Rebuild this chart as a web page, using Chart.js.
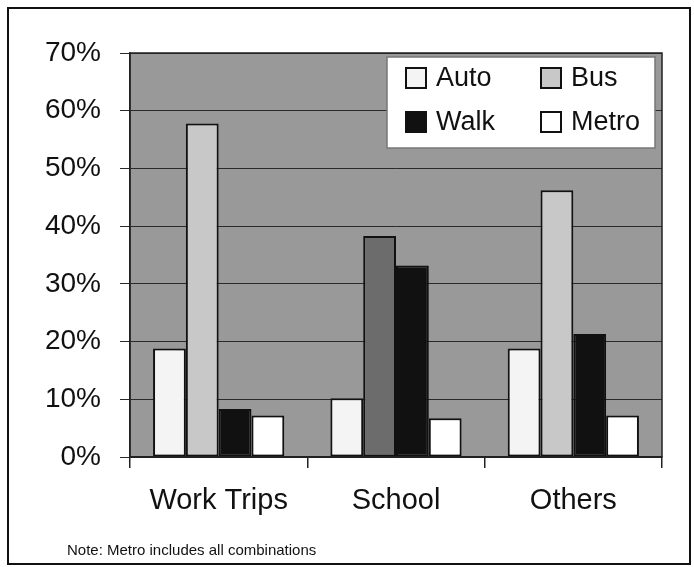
<!DOCTYPE html>
<html>
<head>
<meta charset="utf-8">
<script src="https://cdn.jsdelivr.net/npm/chart.js@4/dist/chart.umd.min.js"></script>
<style>
  html, body { margin: 0; padding: 0; background: #fff; }
  #wrap { width: 694px; height: 567px; }
</style>
</head>
<body>
<div id="wrap"><canvas id="trip-chart" width="694" height="567"></canvas></div>
<script>
// trip purposes and mode shares (%)
const categories = ["Work Trips", "School", "Others"];
const modes = ["Auto", "Bus", "Walk", "Metro"];
const autoShare = [18.8, 10.2, 18.8];
const busShare = [57.8, 38.3, 46.2];
const walkShare = [8.3, 33.2, 21.3];
const metroShare = [7.2, 6.7, 7.2];
const yTicks = [0, 10, 20, 30, 40, 50, 60, 70];
const noteText = "Note: Metro includes all combinations";

const FONT = "'Liberation Sans', Arial, sans-serif";

// gray plot background + outer frame + note
const backdrop = {
    id: 'backdrop',
    beforeDraw(chart) {
        const { ctx, chartArea: a } = chart;
        ctx.save();
        ctx.fillStyle = '#fff';
        ctx.fillRect(0, 0, chart.width, chart.height);
        ctx.fillStyle = '#999999';
        ctx.fillRect(a.left, a.top, a.right - a.left, a.bottom - a.top);
        ctx.restore();
    },
    afterDraw(chart) {
        const { ctx, chartArea: a } = chart;
        ctx.save();
        // plot border
        ctx.strokeStyle = '#222';
        ctx.lineWidth = 1.5;
        ctx.strokeRect(a.left, a.top, a.right - a.left, a.bottom - a.top);
        // outer frame
        ctx.strokeStyle = '#111';
        ctx.lineWidth = 2;
        ctx.strokeRect(8, 8, 682, 556);
        // note
        ctx.fillStyle = '#111';
        ctx.font = "15px 'Liberation Sans Narrow', " + FONT;
        ctx.textBaseline = 'alphabetic';
        ctx.fillText(noteText, 67, 555);
        ctx.restore();
    }
};

// legend box inside the plot, 2 x 2
const boxLegend = {
    id: 'boxLegend',
    afterDatasetsDraw(chart) {
        const { ctx, chartArea: a } = chart;
        const w = 268, h = 91;
        const x = a.right - 7 - w, y = a.top + 4;
        ctx.save();
        ctx.fillStyle = '#fff';
        ctx.fillRect(x, y, w, h);
        ctx.strokeStyle = '#777';
        ctx.lineWidth = 1.5;
        ctx.strokeRect(x, y, w, h);
        ctx.font = '27px ' + FONT;
        ctx.textBaseline = 'middle';
        chart.data.datasets.forEach((ds, i) => {
            const col = i % 2, row = Math.floor(i / 2);
            const sx = x + 19 + col * 135;
            const cy = y + 21 + row * 44;
            const bg = Array.isArray(ds.backgroundColor) ? ds.backgroundColor[0] : ds.backgroundColor;
            ctx.fillStyle = bg;
            ctx.fillRect(sx, cy - 10, 20, 20);
            ctx.strokeStyle = '#111';
            ctx.lineWidth = 2;
            ctx.strokeRect(sx, cy - 10, 20, 20);
            ctx.fillStyle = '#111';
            ctx.fillText(ds.label, sx + 30, cy + 1);
        });
        ctx.restore();
    }
};

const shares = [autoShare, busShare, walkShare, metroShare];
const fills = ['#f4f4f4', ['#c8c8c8', '#6c6c6c', '#c8c8c8'], '#111111', '#ffffff'];

new Chart(document.getElementById('trip-chart').getContext('2d'), {
    type: 'bar',
    data: {
        labels: categories,
        datasets: modes.map((m, i) => ({
            label: m,
            data: shares[i],
            backgroundColor: fills[i],
            borderColor: '#111',
            borderWidth: 2,
            borderSkipped: false,
            categoryPercentage: 0.74,
            barPercentage: 1
        }))
    },
    options: {
        responsive: false,
        animation: false,
        layout: { padding: { top: 53, right: 32, left: 0, bottom: 0 } },
        plugins: {
            legend: { display: false },
            tooltip: { enabled: false }
        },
        scales: {
            x: {
                afterFit(scale) { scale.height = 110; },
                grid: { drawOnChartArea: false, drawTicks: true, tickLength: 11, color: '#222', lineWidth: 1.5 },
                border: { color: '#222', width: 1.5 },
                ticks: { color: '#111', font: { family: FONT, size: 29 }, padding: 16 }
            },
            y: {
                min: 0,
                max: 70,
                afterFit(scale) { scale.width = 130; },
                afterBuildTicks(scale) { scale.ticks = yTicks.map(v => ({ value: v })); },
                grid: { color: '#2a2a2a', lineWidth: 1, tickLength: 10 },
                border: { color: '#222', width: 1.5 },
                ticks: {
                    color: '#111',
                    font: { family: FONT, size: 28 },
                    padding: 19,
                    callback: v => v + '%'
                }
            }
        }
    },
    plugins: [backdrop, boxLegend]
});
</script>
</body>
</html>
